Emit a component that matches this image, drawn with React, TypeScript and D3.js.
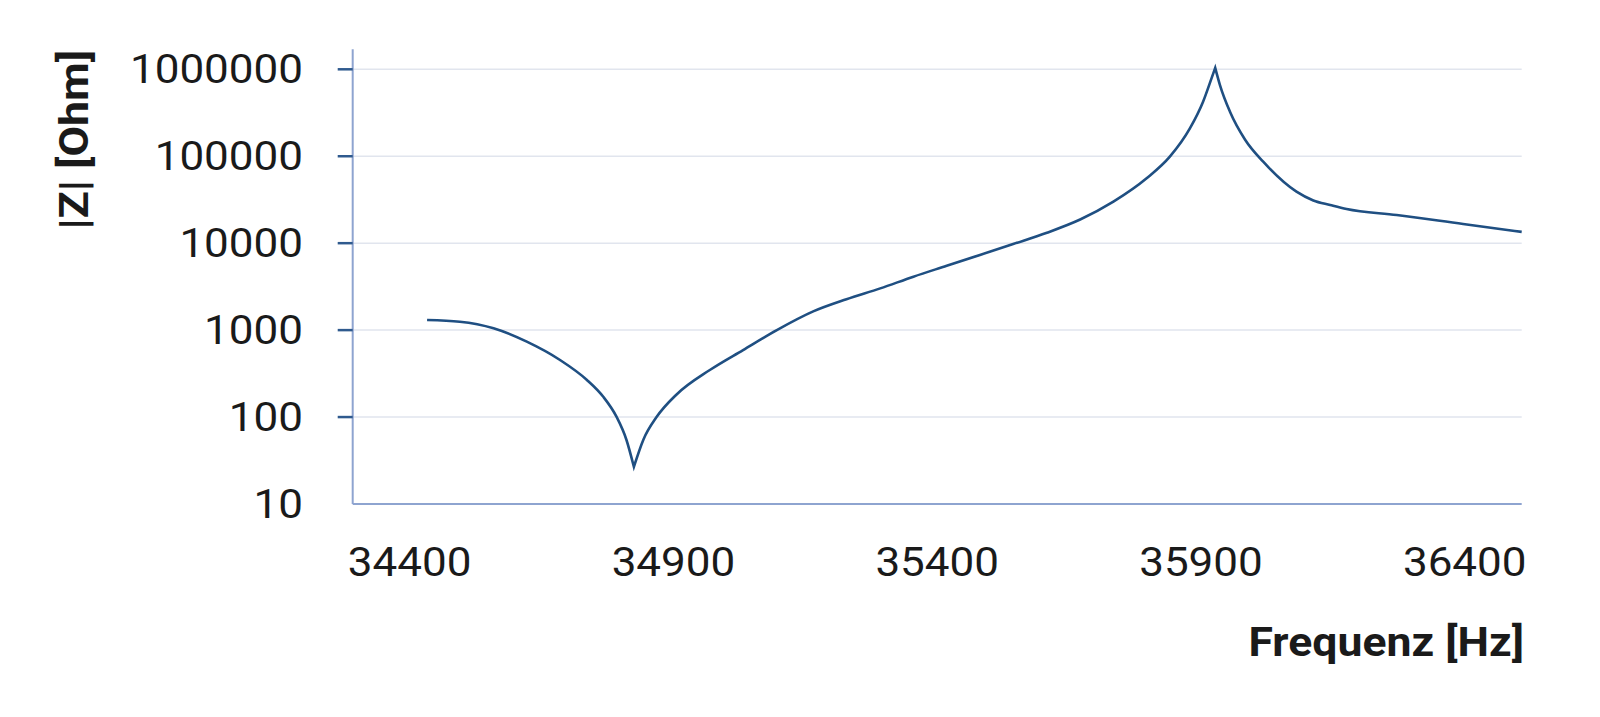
import React from "react";
import * as d3 from "d3";

const freqs = [34433, 34495, 34559, 34622, 34685, 34736, 34767, 34792, 34811, 34825, 34843, 34868, 34906, 34969, 35032, 35096, 35165, 35228, 35292, 35355, 35418, 35481, 35544, 35608, 35671, 35734, 35797, 35841, 35879, 35904, 35920, 35927, 35936, 35955, 35984, 36018, 36081, 36113, 36145, 36176, 36271, 36397, 36508];
const impedance = [1307, 1250, 1050, 736, 453, 267, 171, 101, 54.5, 26.8, 55, 100, 182, 348, 590, 1000, 1641, 2265, 3020, 4121, 5495, 7328, 9772, 13183, 18700, 30000, 55700, 98900, 209000, 424000, 787000, 1040000, 659000, 325000, 154000, 86500, 39100, 31000, 27500, 24700, 21100, 16600, 13500];
const xTicks = [34400, 34900, 35400, 35900, 36400];
const yTicks = [10, 100, 1000, 10000, 100000, 1000000];
const xTitle = "Frequenz [Hz]";
const yTitle = "|Z| [Ohm]";

const W = 1600, H = 717;

type P = { f: number; v: number };

export default function App() {
  const x = d3.scaleLinear().domain([34292, 36508]).range([352.7, 1521.7]);
  const y = d3.scaleLog().domain([10, 1000000]).range([504, 69.3]);
  const axisTop = y(1700000);
  const data: P[] = freqs.map((f, i) => ({ f, v: impedance[i] }));
  const minIdx = d3.minIndex(data, d => d.v);
  const maxIdx = d3.maxIndex(data, d => d.v);
  const line = d3.line<P>()
    .x(d => x(d.f))
    .y(d => y(d.v))
    .curve(d3.curveMonotoneX);
  const segs = [
    data.slice(0, minIdx + 1),
    data.slice(minIdx, maxIdx + 1),
    data.slice(maxIdx),
  ];
  const pathD = segs.map((s, i) => {
    const d = line(s) || "";
    return i === 0 ? d : d.replace(/^M/, "L");
  }).join("");
  const font = "Roboto, 'Noto Sans', sans-serif";
  const sx = 1.1;
  const sxt = 1.087;
  return (
    <svg width={W} height={H} style={{ position: "absolute", left: 0, top: 0, background: "#ffffff" }}>
      {yTicks.filter(t => t > 10).map(t => (
        <line key={"g" + t} x1={x.range()[0]} x2={x.range()[1]} y1={y(t)} y2={y(t)} stroke="#e1e5ee" strokeWidth={1.5} />
      ))}
      <line x1={x.range()[0]} x2={x.range()[0]} y1={axisTop} y2={y(10)} stroke="#8ea4d0" strokeWidth={2} />
      <line x1={x.range()[0]} x2={x.range()[1]} y1={y(10)} y2={y(10)} stroke="#8ea4d0" strokeWidth={2} />
      {yTicks.filter(t => t > 10).map(t => (
        <line key={"t" + t} x1={x.range()[0] - 15} x2={x.range()[0]} y1={y(t)} y2={y(t)} stroke="#2f5a8e" strokeWidth={2.5} />
      ))}
      <path d={pathD} fill="none" stroke="#1f4f82" strokeWidth={2.6} strokeLinejoin="miter" strokeMiterlimit={10} />
      {yTicks.map(t => (
        <text key={"yl" + t} transform={`translate(303,${y(t)}) scale(${sx},1)`} dy="0.35em" textAnchor="end" fontFamily={font} fontSize={40} fill="#1a1a1a">{String(t)}</text>
      ))}
      {xTicks.map(t => (
        <text key={"xl" + t} transform={`translate(${x(t)},576) scale(${sx},1)`} textAnchor="middle" fontFamily={font} fontSize={40} fill="#1a1a1a">{String(t)}</text>
      ))}
      <text transform={`translate(1524,656) scale(${sxt},1)`} textAnchor="end" fontFamily={font} fontSize={41} fontWeight="bold" fill="#1a1a1a">{xTitle}</text>
      <text transform={`translate(88,50) rotate(-90) scale(${sxt},1)`} textAnchor="end" fontFamily={font} fontSize={41} fontWeight="bold" fill="#1a1a1a">{yTitle}</text>
    </svg>
  );
}
